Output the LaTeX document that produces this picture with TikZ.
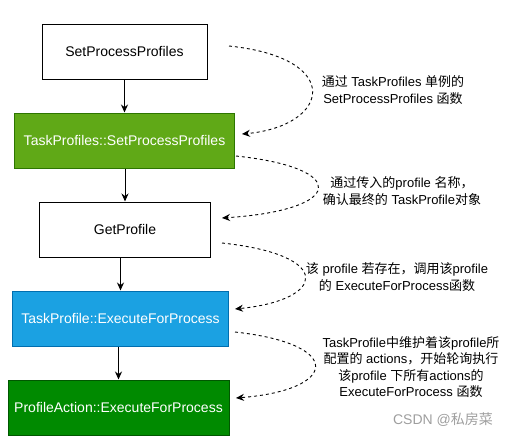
\documentclass[tikz,border=0pt]{standalone}
\usepackage{fontspec}
\setmainfont{Liberation Sans}
\newfontfamily\cjkfont{Noto Sans CJK SC}
\newcommand{\zh}[1]{{\cjkfont #1}}
\usepackage{xcolor}
\usetikzlibrary{arrows.meta,positioning,calc}
\definecolor{fnGreen}{HTML}{60A917}
\definecolor{fnGreenLine}{HTML}{2D7600}
\definecolor{fnBlue}{HTML}{1BA1E2}
\definecolor{fnBlueLine}{HTML}{006EAF}
\definecolor{fnDark}{HTML}{008A00}
\definecolor{fnDarkLine}{HTML}{005700}

\begin{document}
\begin{tikzpicture}[
  x=1pt, y=-1pt,
  node distance=33pt,
  box/.style={draw, line width=1pt, minimum height=55pt, inner sep=2pt,
              font=\fontsize{14}{16}\selectfont},
  note/.style={align=center, font=\fontsize{13}{16.5}\selectfont},
  arr/.style={-{Stealth[length=8pt,width=7pt]}, line width=1pt},
  dasharr/.style={-{Stealth[length=8pt,width=7pt]}, line width=0.9pt,
                  dash pattern=on 3pt off 3pt}
]
\useasboundingbox (0,0) rectangle (509,437);

% call chain
\node[box, minimum width=165pt] (spp) at (124.5,51.5) {SetProcessProfiles};
\node[box, minimum width=220pt, fill=fnGreen, draw=fnGreenLine, text=white,
      below=of spp] (tspp) {TaskProfiles::SetProcessProfiles};
\node[box, minimum width=171pt, below=of tspp, xshift=0.5pt] (gp) {GetProfile};
\node[box, minimum width=216pt, fill=fnBlue, draw=fnBlueLine, text=white,
      below=of gp, xshift=-4.5pt] (tpef) {TaskProfile::ExecuteForProcess};
\node[box, minimum width=221pt, fill=fnDark, draw=fnDarkLine, text=white,
      below=of tpef, xshift=-2pt] (paef) {ProfileAction::ExecuteForProcess};

\draw[arr] (spp) -- (tspp);
\draw[arr] (tspp.south -| gp.north) -- (gp);
\draw[arr] (tpef.north |- gp.south) -- (tpef);
\draw[arr] (paef.north |- tpef.south) -- (paef.north);

% explanations
\coordinate (c1a) at (229,46);  \coordinate (c1b) at (242,134);
\coordinate (c2a) at (236,156); \coordinate (c2b) at (222,218);
\coordinate (c3a) at (222,243); \coordinate (c3b) at (235,309);
\coordinate (c4a) at (235,332); \coordinate (c4b) at (236,398);

\draw[dasharr] (c1a) .. controls (345,58) and (330,126) .. (c1b);
\draw[dasharr] (c2a) .. controls (350,168) and (345,210) .. (c2b);
\draw[dasharr] (c3a) .. controls (335,255) and (326,300) .. (c3b);
\draw[dasharr] (c4a) .. controls (345,344) and (338,390) .. (c4b);

\node[note] (n1) at (393,90) {\zh{通过} TaskProfiles \zh{单例的}\\SetProcessProfiles \zh{函数}};
\node[note] (n2) at (402,191) {\zh{通过传入的}profile \zh{名称，}\\\zh{确认最终的} TaskProfile\zh{对象}};
\node[note] (n3) at (397,277) {\zh{该} profile \zh{若存在，调用该}profile\\\zh{的} ExecuteForProcess\zh{函数}};
\node[note] (n4) at (411,367) {TaskProfile\zh{中维护着该}profile\zh{所}\\\zh{配置的} actions\zh{，开始轮询执行}\\\zh{该}profile \zh{下所有}actions\zh{的}\\ExecuteForProcess \zh{函数}};

\node[font=\fontsize{14}{16}\selectfont, text=black!38] (mark) at (443,420) {CSDN @\zh{私房菜}};
\end{tikzpicture}
\end{document}
